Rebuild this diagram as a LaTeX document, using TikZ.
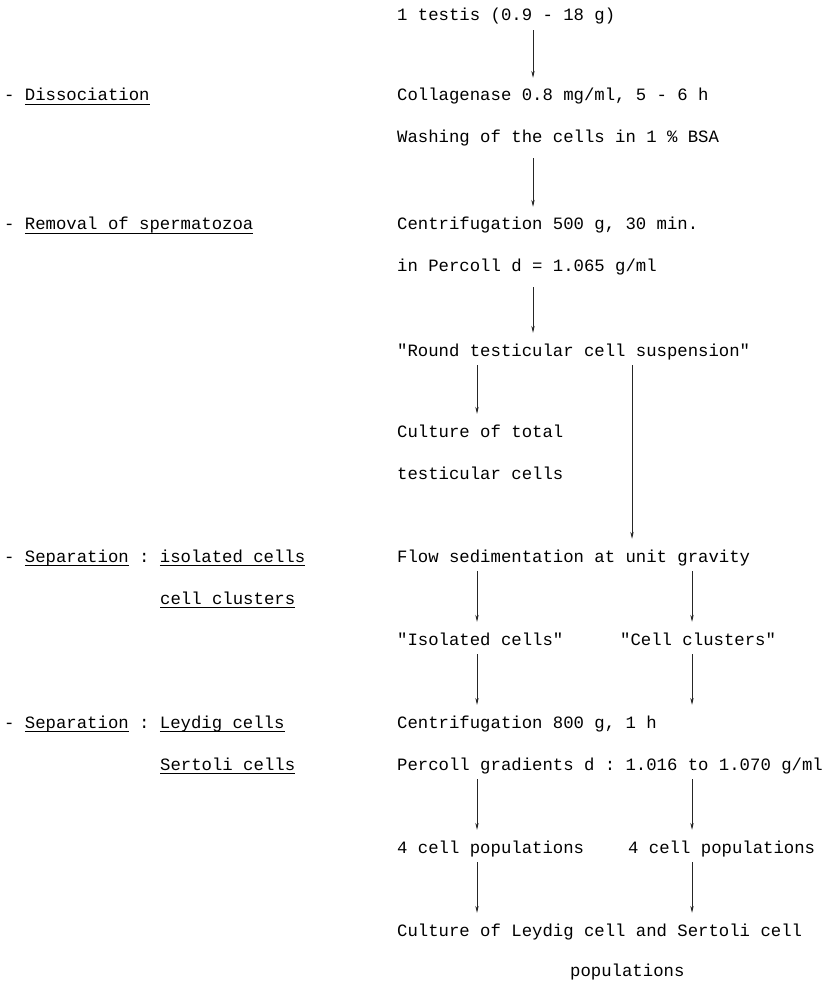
\documentclass[tikz,border=0pt]{standalone}
\usepackage{fontspec}
\setmonofont{Liberation Mono}
\usetikzlibrary{arrows.meta}
\newcommand{\ulx}[1]{\setbox0\hbox{#1}\rlap{\rule[-4.2pt]{\wd0}{1.2pt}}\box0\relax}
\tikzset{
  txt/.style={anchor=base west, inner xsep=0pt, inner ysep=5pt, text height=18pt, text depth=4pt,
    font=\ttfamily\fontsize{17.3pt}{20pt}\selectfont},
  arr/.style={-{Stealth[length=7pt,width=3.4pt]}, line width=0.7pt, black!85},
}
\begin{document}
\begin{tikzpicture}[x=1pt,y=-1pt]
\useasboundingbox (0,0) rectangle (832,981);
% column coordinates
\coordinate (cA) at (533,0);
\coordinate (cL) at (477,0);
\coordinate (cR) at (632,0);
\coordinate (cS) at (692,0);
% right column
\node[txt] (t1) at (397,21) {1 testis (0.9 - 18 g)};
\node[txt] (coll) at (397,101) {Collagenase 0.8 mg/ml, 5 - 6 h};
\node[txt] (wash) at (397,143) {Washing of the cells in 1 \% BSA};
\node[txt] (cen1) at (397,230) {Centrifugation 500 g, 30 min.};
\node[txt] (perc1) at (397,272) {in Percoll d = 1.065 g/ml};
\node[txt] (round) at (397,356) {"Round testicular cell suspension"};
\node[txt] (cult1) at (397,437) {Culture of total};
\node[txt] (cult2) at (397,479) {testicular cells};
\node[txt] (flow) at (397,562) {Flow sedimentation at unit gravity};
\node[txt] (iso) at (397,645) {"Isolated cells"};
\node[txt] (clu) at (620,645) {"Cell clusters"};
\node[txt] (cen2) at (397,728) {Centrifugation 800 g, 1 h};
\node[txt] (perc2) at (397,770) {Percoll gradients d : 1.016 to 1.070 g/ml};
\node[txt] (pop1) at (397,853) {4 cell populations};
\node[txt] (pop2) at (628,853) {4 cell populations};
\node[txt] (fin1) at (397,936) {Culture of Leydig cell and Sertoli cell};
\node[txt] (fin2) at (570,976) {populations};
% left column
\node[txt] (l1) at (4,101) {- \ulx{Dissociation}};
\node[txt] (l2) at (4,230) {- \ulx{Removal of spermatozoa}};
\node[txt] (l3) at (4,562) {- \ulx{Separation} : \ulx{isolated cells}};
\node[txt] (l3b) at (160,604) {\ulx{cell clusters}};
\node[txt] (l4) at (4,728) {- \ulx{Separation} : \ulx{Leydig cells}};
\node[txt] (l4b) at (160,770) {\ulx{Sertoli cells}};
% arrows
\draw[arr] (t1.south -| cA) -- (coll.north -| cA);
\draw[arr] ([yshift=-6pt]wash.south -| cA) -- (cen1.north -| cA);
\draw[arr] ([yshift=-6pt]perc1.south -| cA) -- (round.north -| cA);
\draw[arr] (round.south -| cL) -- (cult1.north -| cL);
\draw[arr] (round.south -| cR) -- (flow.north -| cR);
\draw[arr] (flow.south -| cL) -- (iso.north -| cL);
\draw[arr] (flow.south -| cS) -- (clu.north -| cS);
\draw[arr] (iso.south -| cL) -- (cen2.north -| cL);
\draw[arr] (clu.south -| cS) -- (cen2.north -| cS);
\draw[arr] (perc2.south -| cL) -- (pop1.north -| cL);
\draw[arr] (perc2.south -| cS) -- (pop2.north -| cS);
\draw[arr] (pop1.south -| cL) -- (fin1.north -| cL);
\draw[arr] (pop2.south -| cS) -- (fin1.north -| cS);
\end{tikzpicture}
\end{document}
